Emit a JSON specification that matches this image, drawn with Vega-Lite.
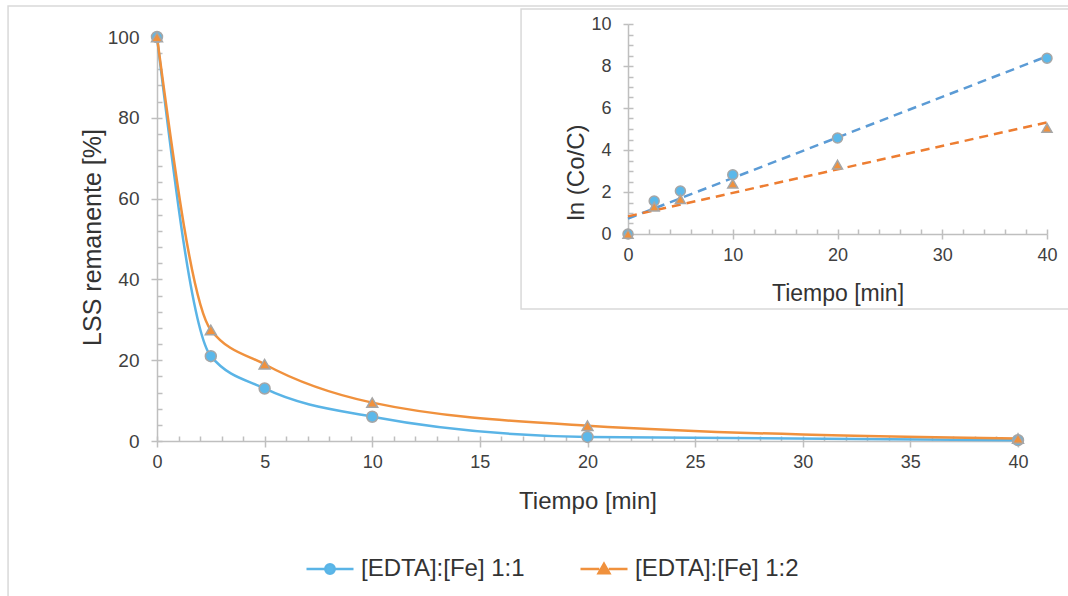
{
  "$schema": "https://vega.github.io/schema/vega-lite/v6.json",
  "width": 861,
  "height": 404,
  "autosize": {"type": "none"},
  "padding": {"left": 157, "top": 37, "right": 50, "bottom": 155},
  "background": "white",
  "config": {
    "view": {"stroke": null},
    "font": "Liberation Sans",
    "axis": {
      "grid": false,
      "domainColor": "#BFBFBF",
      "tickColor": "#BFBFBF",
      "domainWidth": 1.5,
      "tickWidth": 1.5,
      "labelFont": "Liberation Sans",
      "titleFont": "Liberation Sans",
      "labelColor": "#404040",
      "titleColor": "#333333",
      "titleFontWeight": "normal",
      "labelOverlap": false,
      "labelFlush": false
    }
  },
  "datasets": {
    "kin": [
      {"t": 0, "series": "[EDTA]:[Fe] 1:1", "lss": 100, "ln": 0},
      {"t": 2.5, "series": "[EDTA]:[Fe] 1:1", "lss": 21, "ln": 1.57},
      {"t": 5, "series": "[EDTA]:[Fe] 1:1", "lss": 13, "ln": 2.05},
      {"t": 10, "series": "[EDTA]:[Fe] 1:1", "lss": 6, "ln": 2.82},
      {"t": 20, "series": "[EDTA]:[Fe] 1:1", "lss": 1, "ln": 4.57},
      {"t": 40, "series": "[EDTA]:[Fe] 1:1", "lss": 0.2, "ln": 8.37},
      {"t": 0, "series": "[EDTA]:[Fe] 1:2", "lss": 100, "ln": 0},
      {"t": 2.5, "series": "[EDTA]:[Fe] 1:2", "lss": 27.5, "ln": 1.3},
      {"t": 5, "series": "[EDTA]:[Fe] 1:2", "lss": 19, "ln": 1.66},
      {"t": 10, "series": "[EDTA]:[Fe] 1:2", "lss": 9.5, "ln": 2.4},
      {"t": 20, "series": "[EDTA]:[Fe] 1:2", "lss": 3.8, "ln": 3.3},
      {"t": 40, "series": "[EDTA]:[Fe] 1:2", "lss": 0.6, "ln": 5.05}
    ]
  },
  "layer": [
    {
      "description": "Outer chart frame; its axes carry the minor ticks of the main plot",
      "data": {"values": [{}]},
      "mark": {"type": "rect", "fill": "transparent", "stroke": "#D9D9D9", "strokeWidth": 1.5},
      "encoding": {
        "x": {
          "datum": -6.92, "type": "quantitative",
          "scale": {"domain": [0, 40]},
          "axis": {"orient": "bottom", "values": [0,1,2,3,4,5,6,7,8,9,10,11,12,13,14,15,16,17,18,19,20,21,22,23,24,25,26,27,28,29,30,31,32,33,34,35,36,37,38,39,40], "tickSize": -5, "labels": false, "domain": false, "title": null}
        },
        "x2": {"datum": 42.65},
        "y": {
          "datum": 107.7, "type": "quantitative",
          "scale": {"domain": [0, 100]},
          "axis": {"orient": "left", "values": [0,4,8,12,16,20,24,28,32,36,40,44,48,52,56,60,64,68,72,76,80,84,88,92,96,100], "tickSize": -5, "labels": false, "domain": false, "title": null}
        },
        "y2": {"datum": -39.4}
      }
    },
    {
      "description": "Main plot: remaining LSS over time",
      "data": {"name": "kin"},
      "layer": [
        {
          "mark": {"type": "line", "interpolate": "monotone", "strokeWidth": 2.5},
          "encoding": {
            "x": {
              "field": "t", "type": "quantitative",
              "scale": {"domain": [0, 40]},
              "axis": {"orient": "bottom", "values": [0,5,10,15,20,25,30,35,40], "tickSize": 6, "labelFontSize": 18, "labelPadding": 6, "title": "Tiempo [min]", "titleFontSize": 24, "titleY": 67, "titleBaseline": "alphabetic"}
            },
            "y": {
              "field": "lss", "type": "quantitative",
              "scale": {"domain": [0, 100]},
              "axis": {"orient": "left", "values": [0,20,40,60,80,100], "tickSize": 6, "labelFontSize": 19, "labelPadding": 12, "title": "LSS remanente [%]", "titleFontSize": 25, "titleX": -57, "titleY": 200, "titleBaseline": "alphabetic"}
            },
            "color": {
              "field": "series", "type": "nominal",
              "scale": {"range": ["#5AB4E6", "#F0913D"]},
              "legend": {
                "title": null,
                "orient": "none",
                "legendX": 148,
                "legendY": 507,
                "direction": "horizontal",
                "symbolSize": 2209,
                "symbolStrokeWidth": 2.5,
                "labelFontSize": 24,
                "labelFont": "Liberation Sans",
                "labelColor": "#333333",
                "labelOffset": 6,
                "columnPadding": 50,
                "labelLimit": 400,
                "encode": {
                  "symbols": {
                    "update": {
                      "shape": {"signal": "datum.value === '[EDTA]:[Fe] 1:1' ? 'M-1,0H-0.2M0.2,0H1M0.2,0A0.2,0.2 0 1 1 -0.2,0A0.2,0.2 0 1 1 0.2,0Z' : 'M-1,0H-0.2M0.2,0H1M0,-0.22L0.23,0.18L-0.23,0.18Z'"},
                      "fill": {"signal": "datum.value === '[EDTA]:[Fe] 1:1' ? '#5BB8EA' : '#F0913D'"},
                      "fillOpacity": {"value": 1}
                    }
                  }
                }
              }
            }
          }
        },
        {
          "mark": {"type": "point", "filled": true, "size": 120, "stroke": "#A6A6A6", "strokeWidth": 1.5, "opacity": 1},
          "encoding": {
            "x": {"field": "t", "type": "quantitative"},
            "y": {"field": "lss", "type": "quantitative"},
            "fill": {"field": "series", "type": "nominal", "scale": {"range": ["#5BB8EA", "#F0913D"]}, "legend": null},
            "shape": {"field": "series", "type": "nominal", "scale": {"range": ["circle", "triangle-up"]}, "legend": null}
          }
        }
      ]
    },
    {
      "description": "Inset frame; its axes carry the minor ticks of the inset",
      "data": {"values": [{}]},
      "mark": {"type": "rect", "fill": "transparent", "stroke": "#D9D9D9", "strokeWidth": 1.5},
      "encoding": {
        "x": {
          "datum": -10.21, "type": "quantitative",
          "scale": {"domain": [0, 40], "range": [471, 890]},
          "axis": {"orient": "bottom", "offset": -207, "values": [0,2,4,6,8,10,12,14,16,18,20,22,24,26,28,30,32,34,36,38,40], "tickSize": -5, "labels": false, "domain": false, "title": null}
        },
        "x2": {"datum": 42.67},
        "y": {
          "datum": 10.71, "type": "quantitative",
          "scale": {"domain": [0, 10], "range": [197, -13]},
          "axis": {"orient": "left", "offset": -471, "values": [0,0.5,1,1.5,2,2.5,3,3.5,4,4.5,5,5.5,6,6.5,7,7.5,8,8.5,9,9.5,10], "tickSize": -5, "labels": false, "domain": false, "title": null}
        },
        "y2": {"datum": -3.57}
      }
    },
    {
      "description": "Inset: first-order linearisation with least-squares trend lines",
      "data": {"name": "kin"},
      "layer": [
        {
          "transform": [{"regression": "ln", "on": "t", "groupby": ["series"], "extent": [0, 40]}],
          "mark": {"type": "line", "strokeDash": [9, 6], "strokeWidth": 2.5},
          "encoding": {
            "x": {
              "field": "t", "type": "quantitative",
              "scale": {"domain": [0, 40], "range": [471, 890]},
              "axis": {"orient": "bottom", "offset": -207, "values": [0,10,20,30,40], "tickSize": 5, "labelFontSize": 18, "labelPadding": 7, "title": "Tiempo [min]", "titleFontSize": 23, "titleY": 66, "titleBaseline": "alphabetic"}
            },
            "y": {
              "field": "ln", "type": "quantitative",
              "scale": {"domain": [0, 10], "range": [197, -13]},
              "axis": {"orient": "left", "offset": -471, "values": [0,2,4,6,8,10], "tickSize": 5, "labelFontSize": 18, "labelPadding": 12, "title": "ln (Co/C)", "titleFontSize": 24, "titleX": -45, "titleY": 135, "titleBaseline": "alphabetic"}
            },
            "stroke": {"field": "series", "type": "nominal", "scale": {"range": ["#5B9BD5", "#ED7D31"]}, "legend": null}
          }
        },
        {
          "mark": {"type": "point", "filled": true, "size": 100, "stroke": "#A6A6A6", "strokeWidth": 1.5, "opacity": 1},
          "encoding": {
            "x": {"field": "t", "type": "quantitative"},
            "y": {"field": "ln", "type": "quantitative"},
            "fill": {"field": "series", "type": "nominal", "legend": null},
            "shape": {"field": "series", "type": "nominal", "legend": null}
          }
        }
      ]
    }
  ],
  "resolve": {"scale": {"x": "independent", "y": "independent"}}
}
